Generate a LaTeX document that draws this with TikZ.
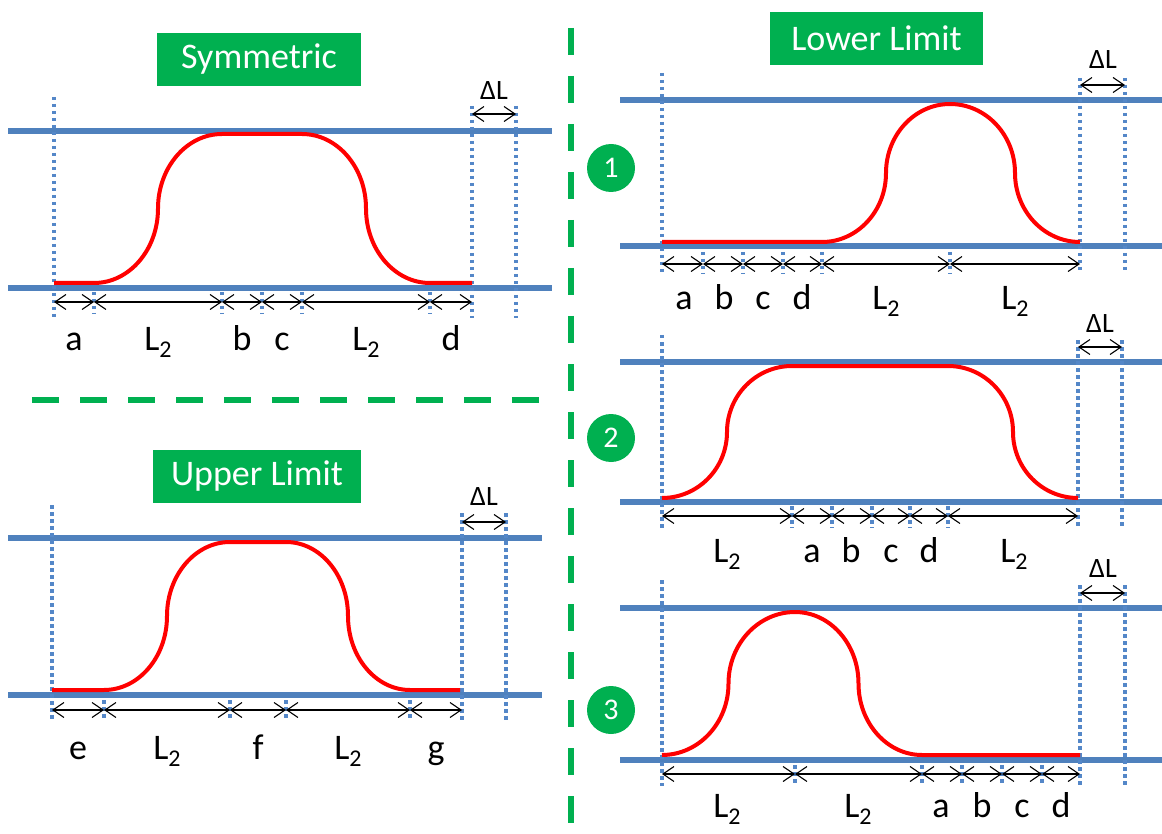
\documentclass[tikz,border=0pt]{standalone}
\usepackage{fontspec}
\setmainfont{Carlito}
\usetikzlibrary{arrows.meta}
\definecolor{bblue}{RGB}{79,129,189}
\definecolor{dblue}{RGB}{84,135,200}
\definecolor{ggreen}{RGB}{0,176,80}
\definecolor{rred}{RGB}{255,0,0}
% smooth S-bend from current point (#1,#2) to (#3,#4)
\newcommand\sbend[4]{.. controls ({#1+0.552*(#3-#1)/2},#2) and ({(#1+#3)/2},{(#2+#4)/2-0.552*(#4-#2)/2}) .. ({(#1+#3)/2},{(#2+#4)/2}) .. controls ({(#1+#3)/2},{(#2+#4)/2+0.552*(#4-#2)/2}) and ({#3-0.552*(#3-#1)/2},#4) .. (#3,#4)}
\newcommand\Ltwo{L\raisebox{-7pt}{\fontsize{24}{24}\selectfont 2}}
\tikzset{
  blueline/.style={bblue, line width=6pt},
  redc/.style={rred, line width=4pt, line join=round},
  dotv/.style={dblue, line width=3.5pt, dash pattern=on 3.5pt off 3.5pt},
  dim/.style={black, line width=1.1pt, {Straight Barb[length=11pt,width=15pt]}-{Straight Barb[length=11pt,width=15pt]}},
  titlebox/.style={fill=ggreen, text=white, font=\fontsize{36}{36}\selectfont, minimum height=53pt, inner sep=0pt},
  lab/.style={font=\fontsize{36}{36}\selectfont, anchor=base, inner sep=0pt},
  dl/.style={font=\fontsize{28}{28}\selectfont, inner sep=0pt},
  num/.style={circle, fill=ggreen, text=white, minimum size=48pt, inner sep=0pt, font=\fontsize{30}{30}\selectfont},
  gdash/.style={ggreen, line width=6pt, dash pattern=on 27pt off 21pt}
}
\begin{document}
\begin{tikzpicture}[x=1pt,y=-1pt]
\useasboundingbox (0,0) rectangle (1162,834);
% separators
\coordinate (hs1) at (32,400); \coordinate (hs2) at (545,400);
\draw[gdash] (hs1) -- (hs2);
\coordinate (vs1) at (571,28); \coordinate (vs2) at (571,834);
\draw[gdash] (vs1) -- (vs2);

% ================= Symmetric =================
\node[titlebox, minimum width=204pt] (tsym) at (259,59.5) {Symmetric};
\draw[blueline] (8,131) -- (552,131);
\draw[blueline] (8,288) -- (552,288);
\draw[dotv] (54,97) -- (54,318);
\draw[dotv] (472,106) -- (472,318);
\draw[dotv] (516,106) -- (516,318);
\foreach \x in {94,222,262,302,430} \draw[dotv] (\x,292) -- (\x,314);
\draw[redc] (54,283) -- (94,283) \sbend{94}{283}{222}{134} -- (302,134) \sbend{302}{134}{430}{283} -- (472,283);
\foreach \x [count=\i from 0] in {54,94,222,262,302,430,472} \coordinate (s\i) at (\x,302);
\foreach \i [evaluate=\i as \j using int(\i+1)] in {0,...,5} \draw[dim] (s\i) -- (s\j);
\node[lab] (sa) at (74,350) {a};
\node[lab] (sl1) at (158,350) {\Ltwo};
\node[lab] (sb) at (242,350) {b};
\node[lab] (sc) at (282,350) {c};
\node[lab] (sl2) at (366,350) {\Ltwo};
\node[lab] (sd) at (451,350) {d};
\coordinate (sdl1) at (472,114); \coordinate (sdl2) at (516,114);
\draw[dim] (sdl1) -- (sdl2);
\node[dl] (sdlt) at (494,91) {ΔL};

% ================= Upper Limit =================
\node[titlebox, minimum width=208pt] (tup) at (257,476.5) {Upper Limit};
\draw[blueline] (8,538) -- (542,538);
\draw[blueline] (8,695) -- (542,695);
\draw[dotv] (52,505) -- (52,720);
\draw[dotv] (462,513) -- (462,720);
\draw[dotv] (506,513) -- (506,720);
\foreach \x in {104,230,286,410} \draw[dotv] (\x,700) -- (\x,720);
\draw[redc] (52,690) -- (104,690) \sbend{104}{690}{230}{542} -- (286,542) \sbend{286}{542}{410}{690} -- (460,690);
\foreach \x [count=\i from 0] in {52,104,230,286,410,462} \coordinate (u\i) at (\x,710);
\foreach \i [evaluate=\i as \j using int(\i+1)] in {0,...,4} \draw[dim] (u\i) -- (u\j);
\node[lab] (ue) at (78,759) {e};
\node[lab] (ul1) at (167,759) {\Ltwo};
\node[lab] (uf) at (258,759) {f};
\node[lab] (ul2) at (348,759) {\Ltwo};
\node[lab] (ug) at (436,759) {g};
\coordinate (udl1) at (462,522); \coordinate (udl2) at (506,522);
\draw[dim] (udl1) -- (udl2);
\node[dl] (udlt) at (484,497) {ΔL};

% ================= Lower Limit =================
\node[titlebox, minimum width=213pt] (tlow) at (876.5,38.5) {Lower Limit};
\node[num] (n1) at (611,168) {1};
\node[num] (n2) at (611,438) {2};
\node[num] (n3) at (611,710) {3};

% --- panel 1
\draw[blueline] (620,100) -- (1162,100);
\draw[blueline] (620,246) -- (1162,246);
\draw[dotv] (662,73) -- (662,274);
\draw[dotv] (1080,78) -- (1080,274);
\draw[dotv] (1125,78) -- (1125,274);
\foreach \x in {703,743,783,822,950} \draw[dotv] (\x,252) -- (\x,274);
\draw[redc] (662,242) -- (822,242) \sbend{822}{242}{950}{104} \sbend{950}{104}{1080}{242};
\foreach \x [count=\i from 0] in {662,703,743,783,822,950,1080} \coordinate (p\i) at (\x,264);
\foreach \i [evaluate=\i as \j using int(\i+1)] in {0,...,5} \draw[dim] (p\i) -- (p\j);
\node[lab] (pa) at (684,310) {a};
\node[lab] (pb) at (724,310) {b};
\node[lab] (pc) at (763,310) {c};
\node[lab] (pd) at (802,310) {d};
\node[lab] (pl1) at (886,310) {\Ltwo};
\node[lab] (pl2) at (1015,310) {\Ltwo};
\coordinate (pdl1) at (1080,85); \coordinate (pdl2) at (1125,85);
\draw[dim] (pdl1) -- (pdl2);
\node[dl] (pdlt) at (1103,60) {ΔL};

% --- panel 2
\draw[blueline] (620,362) -- (1162,362);
\draw[blueline] (620,502) -- (1162,502);
\draw[dotv] (662,335) -- (662,528);
\draw[dotv] (1078,340) -- (1078,528);
\draw[dotv] (1122,340) -- (1122,528);
\foreach \x in {792,832,872,910,948} \draw[dotv] (\x,506) -- (\x,528);
\draw[redc] (662,498) \sbend{662}{498}{792}{366} -- (948,366) \sbend{948}{366}{1078}{498};
\foreach \x [count=\i from 0] in {662,792,832,872,910,948,1078} \coordinate (q\i) at (\x,516);
\foreach \i [evaluate=\i as \j using int(\i+1)] in {0,...,5} \draw[dim] (q\i) -- (q\j);
\node[lab] (ql1) at (727,562) {\Ltwo};
\node[lab] (qa) at (812,562) {a};
\node[lab] (qb) at (851,562) {b};
\node[lab] (qc) at (891,562) {c};
\node[lab] (qd) at (929,562) {d};
\node[lab] (ql2) at (1014,562) {\Ltwo};
\coordinate (qdl1) at (1078,347); \coordinate (qdl2) at (1122,347);
\draw[dim] (qdl1) -- (qdl2);
\node[dl] (qdlt) at (1100,324) {ΔL};

% --- panel 3
\draw[blueline] (620,608) -- (1162,608);
\draw[blueline] (620,760) -- (1162,760);
\draw[dotv] (662,580) -- (662,786);
\draw[dotv] (1080,585) -- (1080,786);
\draw[dotv] (1125,585) -- (1125,786);
\foreach \x in {795,922,962,1002,1042} \draw[dotv] (\x,765) -- (\x,786);
\draw[redc] (662,755) \sbend{662}{755}{795}{612} \sbend{795}{612}{922}{755} -- (1080,755);
\foreach \x [count=\i from 0] in {662,795,922,962,1002,1042,1080} \coordinate (r\i) at (\x,774);
\foreach \i [evaluate=\i as \j using int(\i+1)] in {0,...,5} \draw[dim] (r\i) -- (r\j);
\node[lab] (rl1) at (727,817) {\Ltwo};
\node[lab] (rl2) at (858,817) {\Ltwo};
\node[lab] (ra) at (941,817) {a};
\node[lab] (rb) at (982,817) {b};
\node[lab] (rc) at (1022,817) {c};
\node[lab] (rd) at (1061,817) {d};
\coordinate (rdl1) at (1080,593); \coordinate (rdl2) at (1125,593);
\draw[dim] (rdl1) -- (rdl2);
\node[dl] (rdlt) at (1103,569) {ΔL};
\end{tikzpicture}
\end{document}
